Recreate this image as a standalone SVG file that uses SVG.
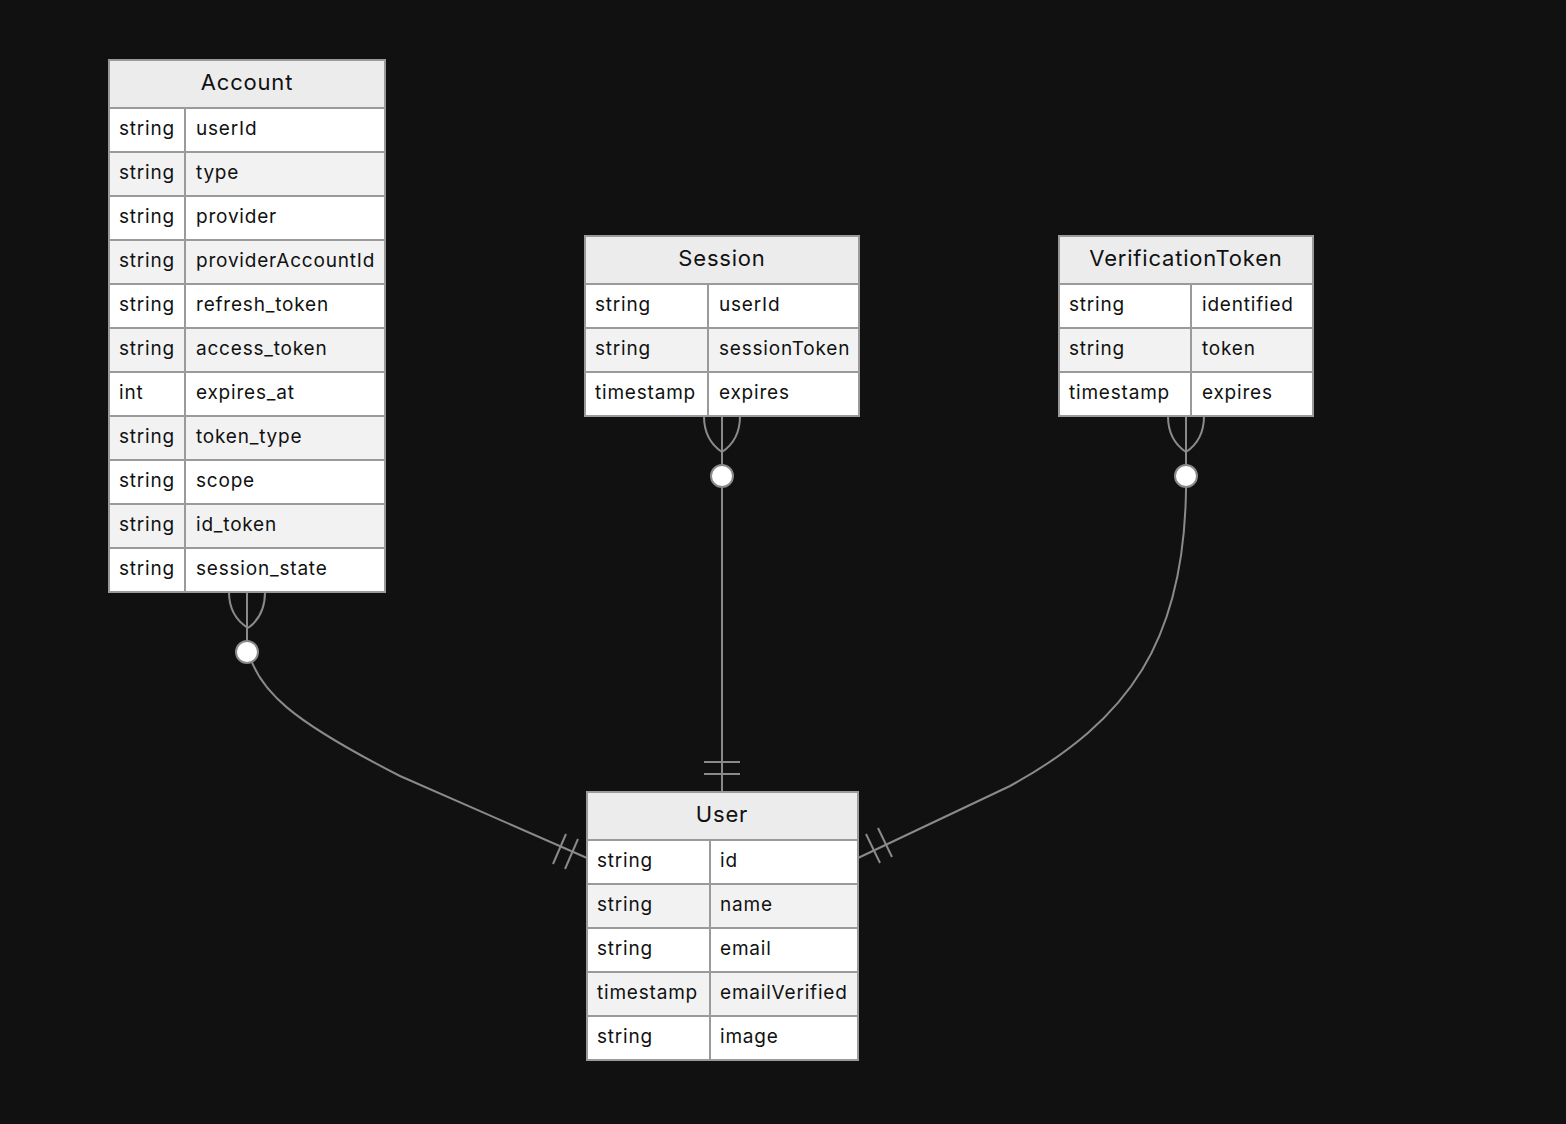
<svg xmlns="http://www.w3.org/2000/svg" width="1566" height="1124" viewBox="0 0 1566 1124">
  <style>
    .bg { fill: #111111; }
    .box { stroke: #9a9a9a; stroke-width: 2; }
    .hdr { fill: #ececec; }
    .odd { fill: #ffffff; }
    .even { fill: #f2f2f2; }
    .div { stroke: #9a9a9a; stroke-width: 2; }
    .title { font-family: Inter, "Noto Sans", sans-serif; font-size: 22px; letter-spacing: 0.8px; fill: #111; text-anchor: middle; }
    .attr { font-family: Inter, "Noto Sans", sans-serif; font-size: 19px; letter-spacing: 0.8px; fill: #111; }
    .rel { fill: none; stroke: #8a8a8a; stroke-width: 2; }
    .dot { fill: #ffffff; stroke: #8a8a8a; stroke-width: 2; }
  </style>
  <rect class="bg" x="0" y="0" width="1566" height="1124"/>

  <!-- relationships: zero-or-many on the child side, exactly-one on User -->
  <g id="connectors">
    <!-- Account to User -->
    <path class="rel" d="M247,592 L247,640 C250,690 300,725 400,776 L587,858"/>
    <path class="rel" d="M229,592 Q229,616 248,628"/>
    <path class="rel" d="M265,592 Q265,616 248,628"/>
    <circle class="dot" cx="247" cy="652" r="11"/>
    <line class="rel" x1="566" y1="834" x2="553" y2="864"/>
    <line class="rel" x1="578" y1="839" x2="565" y2="869"/>

    <!-- Session to User -->
    <path class="rel" d="M722,416 L722,792"/>
    <path class="rel" d="M704,416 Q704,440 722,452"/>
    <path class="rel" d="M740,416 Q740,440 722,452"/>
    <circle class="dot" cx="722" cy="476" r="11"/>
    <line class="rel" x1="704" y1="762" x2="740" y2="762"/>
    <line class="rel" x1="704" y1="774" x2="740" y2="774"/>

    <!-- VerificationToken to User -->
    <path class="rel" d="M1186,416 L1186,490 C1184,640 1130,720 1010,786 L858,858"/>
    <path class="rel" d="M1168,416 Q1168,440 1186,452"/>
    <path class="rel" d="M1204,416 Q1204,440 1186,452"/>
    <circle class="dot" cx="1186" cy="476" r="11"/>
    <line class="rel" x1="866" y1="834" x2="880" y2="863"/>
    <line class="rel" x1="878" y1="828" x2="892" y2="857"/>
  </g>

  <!-- Account entity -->
  <g id="account">
    <rect class="hdr" x="109" y="60" width="276" height="48"/>
    <rect class="odd" x="109" y="108" width="276" height="44"/>
    <rect class="even" x="109" y="152" width="276" height="44"/>
    <rect class="odd" x="109" y="196" width="276" height="44"/>
    <rect class="even" x="109" y="240" width="276" height="44"/>
    <rect class="odd" x="109" y="284" width="276" height="44"/>
    <rect class="even" x="109" y="328" width="276" height="44"/>
    <rect class="odd" x="109" y="372" width="276" height="44"/>
    <rect class="even" x="109" y="416" width="276" height="44"/>
    <rect class="odd" x="109" y="460" width="276" height="44"/>
    <rect class="even" x="109" y="504" width="276" height="44"/>
    <rect class="odd" x="109" y="548" width="276" height="44"/>
    <g class="div">
      <line x1="109" y1="108" x2="385" y2="108"/>
      <line x1="109" y1="152" x2="385" y2="152"/>
      <line x1="109" y1="196" x2="385" y2="196"/>
      <line x1="109" y1="240" x2="385" y2="240"/>
      <line x1="109" y1="284" x2="385" y2="284"/>
      <line x1="109" y1="328" x2="385" y2="328"/>
      <line x1="109" y1="372" x2="385" y2="372"/>
      <line x1="109" y1="416" x2="385" y2="416"/>
      <line x1="109" y1="460" x2="385" y2="460"/>
      <line x1="109" y1="504" x2="385" y2="504"/>
      <line x1="109" y1="548" x2="385" y2="548"/>
      <line x1="185" y1="108" x2="185" y2="592"/>
    </g>
    <rect class="box" x="109" y="60" width="276" height="532" fill="none"/>
    <text class="title" x="247" y="90">Account</text>
    <g class="attr">
      <text x="119" y="135">string</text><text x="196" y="135">userId</text>
      <text x="119" y="179">string</text><text x="196" y="179">type</text>
      <text x="119" y="223">string</text><text x="196" y="223">provider</text>
      <text x="119" y="267">string</text><text x="196" y="267">providerAccountId</text>
      <text x="119" y="311">string</text><text x="196" y="311">refresh_token</text>
      <text x="119" y="355">string</text><text x="196" y="355">access_token</text>
      <text x="119" y="399">int</text><text x="196" y="399">expires_at</text>
      <text x="119" y="443">string</text><text x="196" y="443">token_type</text>
      <text x="119" y="487">string</text><text x="196" y="487">scope</text>
      <text x="119" y="531">string</text><text x="196" y="531">id_token</text>
      <text x="119" y="575">string</text><text x="196" y="575">session_state</text>
    </g>
  </g>

  <!-- Session entity -->
  <g id="session">
    <rect class="hdr" x="585" y="236" width="274" height="48"/>
    <rect class="odd" x="585" y="284" width="274" height="44"/>
    <rect class="even" x="585" y="328" width="274" height="44"/>
    <rect class="odd" x="585" y="372" width="274" height="44"/>
    <g class="div">
      <line x1="585" y1="284" x2="859" y2="284"/>
      <line x1="585" y1="328" x2="859" y2="328"/>
      <line x1="585" y1="372" x2="859" y2="372"/>
      <line x1="708" y1="284" x2="708" y2="416"/>
    </g>
    <rect class="box" x="585" y="236" width="274" height="180" fill="none"/>
    <text class="title" x="722" y="266">Session</text>
    <g class="attr">
      <text x="595" y="311">string</text><text x="719" y="311">userId</text>
      <text x="595" y="355">string</text><text x="719" y="355">sessionToken</text>
      <text x="595" y="399">timestamp</text><text x="719" y="399">expires</text>
    </g>
  </g>

  <!-- VerificationToken entity -->
  <g id="verificationtoken">
    <rect class="hdr" x="1059" y="236" width="254" height="48"/>
    <rect class="odd" x="1059" y="284" width="254" height="44"/>
    <rect class="even" x="1059" y="328" width="254" height="44"/>
    <rect class="odd" x="1059" y="372" width="254" height="44"/>
    <g class="div">
      <line x1="1059" y1="284" x2="1313" y2="284"/>
      <line x1="1059" y1="328" x2="1313" y2="328"/>
      <line x1="1059" y1="372" x2="1313" y2="372"/>
      <line x1="1191" y1="284" x2="1191" y2="416"/>
    </g>
    <rect class="box" x="1059" y="236" width="254" height="180" fill="none"/>
    <text class="title" x="1186" y="266">VerificationToken</text>
    <g class="attr">
      <text x="1069" y="311">string</text><text x="1202" y="311">identified</text>
      <text x="1069" y="355">string</text><text x="1202" y="355">token</text>
      <text x="1069" y="399">timestamp</text><text x="1202" y="399">expires</text>
    </g>
  </g>

  <!-- User entity -->
  <g id="user">
    <rect class="hdr" x="587" y="792" width="271" height="48"/>
    <rect class="odd" x="587" y="840" width="271" height="44"/>
    <rect class="even" x="587" y="884" width="271" height="44"/>
    <rect class="odd" x="587" y="928" width="271" height="44"/>
    <rect class="even" x="587" y="972" width="271" height="44"/>
    <rect class="odd" x="587" y="1016" width="271" height="44"/>
    <g class="div">
      <line x1="587" y1="840" x2="858" y2="840"/>
      <line x1="587" y1="884" x2="858" y2="884"/>
      <line x1="587" y1="928" x2="858" y2="928"/>
      <line x1="587" y1="972" x2="858" y2="972"/>
      <line x1="587" y1="1016" x2="858" y2="1016"/>
      <line x1="710" y1="840" x2="710" y2="1060"/>
    </g>
    <rect class="box" x="587" y="792" width="271" height="268" fill="none"/>
    <text class="title" x="722" y="822">User</text>
    <g class="attr">
      <text x="597" y="867">string</text><text x="720" y="867">id</text>
      <text x="597" y="911">string</text><text x="720" y="911">name</text>
      <text x="597" y="955">string</text><text x="720" y="955">email</text>
      <text x="597" y="999">timestamp</text><text x="720" y="999">emailVerified</text>
      <text x="597" y="1043">string</text><text x="720" y="1043">image</text>
    </g>
  </g>
</svg>
